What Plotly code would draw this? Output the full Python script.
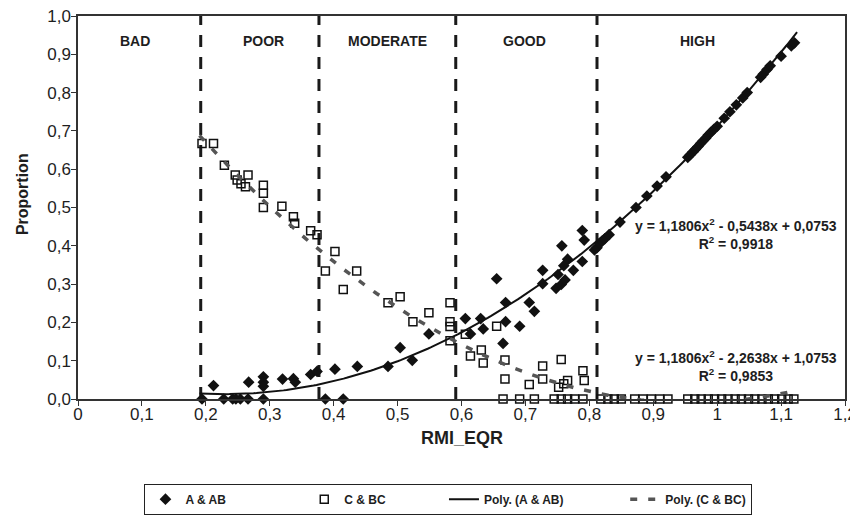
import plotly.graph_objects as go

# ---------------- data ----------------
aa_x = [0.194, 0.212, 0.228, 0.242, 0.247, 0.254, 0.266, 0.267, 0.29, 0.29, 0.29, 0.29,
        0.32, 0.337, 0.34, 0.364, 0.374, 0.387, 0.402, 0.415, 0.437, 0.485, 0.504, 0.523,
        0.549, 0.606, 0.614, 0.63, 0.634, 0.655, 0.665, 0.669, 0.669, 0.691, 0.706, 0.714,
        0.727, 0.727, 0.748, 0.751, 0.756, 0.757, 0.76, 0.762, 0.766, 0.775, 0.789, 0.792,
        0.789, 0.808, 0.812, 0.816, 0.82, 0.824, 0.831, 0.848, 0.873, 0.89, 0.906, 0.92,
        0.954, 0.958, 0.962, 0.966, 0.97, 0.974, 0.978, 0.982, 0.986, 0.99, 0.995, 1.0,
        1.011, 1.02, 1.03, 1.04, 1.047, 1.068, 1.072, 1.078, 1.083, 1.1, 1.116, 1.121]
aa_y = [0, 0.035, 0, 0, 0, 0, 0, 0.044, 0.058, 0.044, 0.033, 0,
        0.052, 0.053, 0.044, 0.064, 0.072, 0, 0.078, 0, 0.085, 0.085, 0.134, 0.101,
        0.17, 0.21, 0.17, 0.21, 0.183, 0.314, 0.145, 0.252, 0.202, 0.19, 0.252, 0.229,
        0.336, 0.301, 0.289, 0.325, 0.299, 0.40, 0.348, 0.311, 0.365, 0.336, 0.44, 0.415,
        0.359, 0.389, 0.395, 0.406, 0.412, 0.418, 0.429, 0.462, 0.50, 0.53, 0.556, 0.58,
        0.631, 0.638, 0.645, 0.652, 0.659, 0.667, 0.674, 0.681, 0.689, 0.696, 0.704, 0.712,
        0.733, 0.75, 0.768, 0.786, 0.80, 0.84, 0.848, 0.86, 0.87, 0.895, 0.922, 0.93]

cbc_x = [0.194, 0.212, 0.229, 0.246, 0.249, 0.255, 0.262, 0.266, 0.29, 0.29, 0.29,
         0.319, 0.337, 0.339, 0.364, 0.374, 0.387, 0.402, 0.415, 0.436, 0.485, 0.504,
         0.524, 0.549, 0.582, 0.582, 0.582, 0.582, 0.606, 0.614, 0.631, 0.634, 0.655,
         0.668, 0.668, 0.706, 0.727, 0.727, 0.756, 0.752, 0.76, 0.766, 0.79, 0.792,
         0.665, 0.691, 0.714, 0.745, 0.756, 0.766, 0.777, 0.79, 0.818, 0.829, 0.839,
         0.85, 0.871, 0.884, 0.897, 0.91, 0.923, 0.954, 0.965, 0.975, 0.986, 0.996,
         1.007, 1.017, 1.028, 1.038, 1.049, 1.059, 1.07, 1.08, 1.09, 1.101, 1.111, 1.12]
cbc_y = [0.667, 0.667, 0.61, 0.585, 0.572, 0.562, 0.554, 0.585, 0.558, 0.537, 0.50,
         0.503, 0.476, 0.459, 0.439, 0.429, 0.334, 0.385, 0.286, 0.334, 0.251, 0.267,
         0.202, 0.225, 0.251, 0.202, 0.189, 0.152, 0.169, 0.112, 0.128, 0.094, 0.19,
         0.102, 0.052, 0.038, 0.086, 0.052, 0.103, 0.031, 0.04, 0.048, 0.074, 0.048,
         0, 0, 0, 0, 0, 0, 0, 0, 0, 0, 0,
         0, 0, 0, 0, 0, 0, 0, 0, 0, 0, 0,
         0, 0, 0, 0, 0, 0, 0, 0, 0, 0, 0, 0]

# polynomial trendline coefficients (a, b, c) as printed on the chart
poly_aa = [1.1806, -0.5438, 0.0753]
poly_cbc = [1.1806, -2.2638, 1.0753]
trend_range = [0.19, 1.125]

zone_bounds = [0.192, 0.377, 0.591, 0.812]
zone_names = ["BAD", "POOR", "MODERATE", "GOOD", "HIGH"]
zone_label_x = [0.089, 0.29, 0.484, 0.698, 0.97]

x_ticks = [0, 0.1, 0.2, 0.3, 0.4, 0.5, 0.6, 0.7, 0.8, 0.9, 1.0, 1.1, 1.2]
x_ticktext = ["0", "0,1", "0,2", "0,3", "0,4", "0,5", "0,6", "0,7", "0,8", "0,9", "1", "1,1", "1,2"]
y_ticks = [0, 0.1, 0.2, 0.3, 0.4, 0.5, 0.6, 0.7, 0.8, 0.9, 1.0]
y_ticktext = ["0,0", "0,1", "0,2", "0,3", "0,4", "0,5", "0,6", "0,7", "0,8", "0,9", "1,0"]

series_names = ["A & AB", "C & BC", "Poly. (A & AB)", "Poly. (C & BC)"]

eq_aa = "y = 1,1806x<sup>2</sup> - 0,5438x + 0,0753<br>R<sup>2</sup> = 0,9918"
eq_cbc = "y = 1,1806x<sup>2</sup> - 2,2638x + 1,0753<br>R<sup>2</sup> = 0,9853"

# ---------------- figure ----------------
FONT = "Liberation Sans, Arial, sans-serif"
TXT = "#1e1e1e"
NB = "\u00a0"
legend_pad = [22, 16, 17, 0]   # trailing spacing so legend entries sit where Excel put them
lnames = ["<b>%s</b>%s" % (s, NB * p) for s, p in zip(series_names, legend_pad)]

n = 200
tx = [trend_range[0] + (trend_range[1] - trend_range[0]) * i / (n - 1) for i in range(n)]
ty_aa = [poly_aa[0] * v * v + poly_aa[1] * v + poly_aa[2] for v in tx]
ty_cbc = [poly_cbc[0] * v * v + poly_cbc[1] * v + poly_cbc[2] for v in tx]

fig = go.Figure()

for b in zone_bounds:
    fig.add_trace(go.Scatter(x=[b, b], y=[0, 1], mode="lines", showlegend=False,
                             hoverinfo="skip",
                             line=dict(color="#1a1a1a", width=3, dash="12px,10px")))

fig.add_trace(go.Scatter(x=aa_x, y=aa_y, mode="markers", name=lnames[0], cliponaxis=False,
                         marker=dict(symbol="diamond", size=9, color="#111111",
                                     line=dict(width=0))))
fig.add_trace(go.Scatter(x=cbc_x, y=cbc_y, mode="markers", name=lnames[1], cliponaxis=False,
                         marker=dict(symbol="square-open", size=8, color="#111111",
                                     line=dict(width=1.5, color="#111111"))))
fig.add_trace(go.Scatter(x=tx, y=ty_aa, mode="lines", name=lnames[2],
                         line=dict(color="#111111", width=2)))
fig.add_trace(go.Scatter(x=tx, y=ty_cbc, mode="lines", name=lnames[3],
                         line=dict(color="#555555", width=3.5, dash="7px,11px")))

for name, lx in zip(zone_names, zone_label_x):
    fig.add_annotation(x=lx, y=0.936, text="<b>%s</b>" % name, showarrow=False,
                       font=dict(family=FONT, size=14, color=TXT))

fig.add_annotation(x=1.03, y=0.43, text="<b>%s</b>" % eq_aa, showarrow=False,
                   font=dict(family=FONT, size=14, color=TXT), align="center")
fig.add_annotation(x=1.03, y=0.086, text="<b>%s</b>" % eq_cbc, showarrow=False,
                   font=dict(family=FONT, size=14, color=TXT), align="center")

# axis titles as annotations (fixed positions)
fig.add_annotation(xref="paper", yref="paper", x=-0.073, y=0.535, text="<b>Proportion</b>",
                   textangle=-90, showarrow=False, xanchor="center", yanchor="middle",
                   font=dict(family=FONT, size=16, color=TXT))
fig.add_annotation(xref="paper", yref="paper", x=0.5, y=-0.102, text="<b>RMI_EQR</b>",
                   showarrow=False, xanchor="center", yanchor="middle",
                   font=dict(family=FONT, size=18, color=TXT))

# page body has an 8px default margin; the figure fills the rest of the 858x515 window
fig.update_layout(
    width=850, height=507,
    margin=dict(l=70, r=13, t=8, b=116, autoexpand=False),
    paper_bgcolor="white", plot_bgcolor="white",
    font=dict(family=FONT, color=TXT),
    xaxis=dict(range=[0, 1.2], tickvals=x_ticks, ticktext=x_ticktext, automargin=False,
               showgrid=False, zeroline=False, showline=True, linecolor="#333333",
               linewidth=1.5, mirror=True, ticks="outside", ticklen=5, tickcolor="#333333",
               ticklabelstandoff=-6, ticklabeloverflow="allow",
               tickfont=dict(size=17, family=FONT, color=TXT)),
    yaxis=dict(range=[0, 1.0], tickvals=y_ticks, ticktext=y_ticktext, automargin=False,
               showgrid=False, zeroline=False, showline=True, linecolor="#333333",
               linewidth=1.5, mirror=True, ticks="outside", ticklen=5, tickcolor="#333333",
               ticklabelstandoff=-3, ticklabeloverflow="allow",
               tickfont=dict(size=17, family=FONT, color=TXT)),
    legend=dict(orientation="h", x=0.483, xanchor="center", y=-0.221, yanchor="top",
                bordercolor="#222222", borderwidth=1, bgcolor="white",
                font=dict(size=12, family=FONT, color=TXT), itemwidth=30),
    showlegend=True,
)

fig.write_html("out.html")
